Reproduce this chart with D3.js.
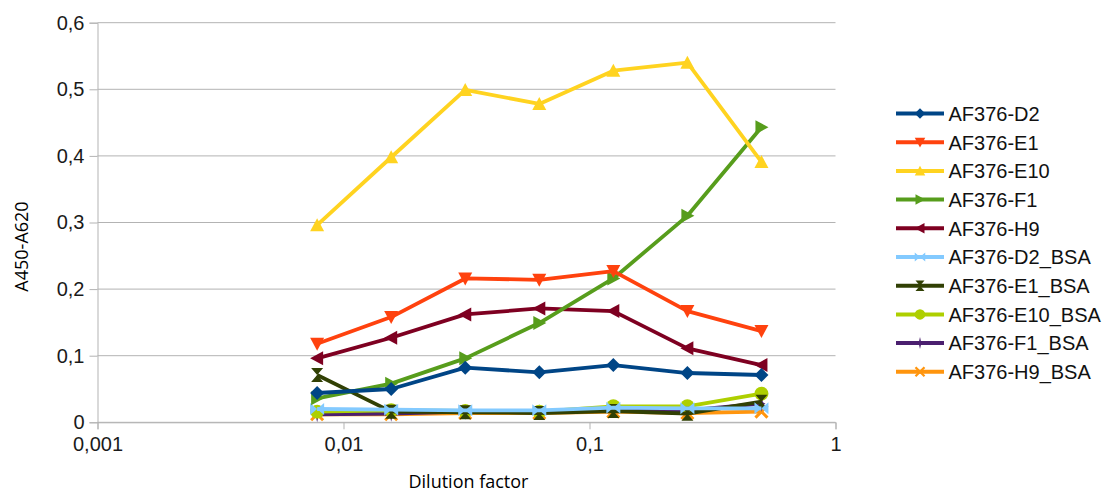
<!DOCTYPE html>
<html>
<head>
<meta charset="utf-8">
<script src="https://cdn.jsdelivr.net/npm/d3@7"></script>
<style>
  html, body { margin: 0; padding: 0; background: #fff; }
  svg { display: block; font-family: "Liberation Sans", Arial, sans-serif; }
</style>
</head>
<body>
<svg id="chart" width="1105" height="492"></svg>
<script>
// Dilution factors (1/128 ... 1/2)
const dilutions = [0.0078125, 0.015625, 0.03125, 0.0625, 0.125, 0.25, 0.5];

const seriesNames = ["AF376-D2", "AF376-E1", "AF376-E10", "AF376-F1", "AF376-H9",
  "AF376-D2_BSA", "AF376-E1_BSA", "AF376-E10_BSA", "AF376-F1_BSA", "AF376-H9_BSA"];

const valD2      = [0.044, 0.050, 0.082, 0.075, 0.086, 0.074, 0.071];
const valE1      = [0.118, 0.158, 0.216, 0.214, 0.227, 0.167, 0.137];
const valE10     = [0.296, 0.398, 0.499, 0.478, 0.528, 0.540, 0.391];
const valF1      = [0.036, 0.058, 0.096, 0.149, 0.216, 0.310, 0.443];
const valH9      = [0.096, 0.127, 0.162, 0.171, 0.167, 0.111, 0.086];
const valD2BSA   = [0.020, 0.019, 0.018, 0.018, 0.022, 0.021, 0.021];
const valE1BSA   = [0.071, 0.016, 0.015, 0.014, 0.017, 0.013, 0.031];
const valE10BSA  = [0.016, 0.018, 0.017, 0.016, 0.024, 0.024, 0.043];
const valF1BSA   = [0.012, 0.013, 0.016, 0.015, 0.019, 0.018, 0.028];
const valH9BSA   = [0.012, 0.012, 0.014, 0.014, 0.016, 0.014, 0.016];

const seriesValues = [valD2, valE1, valE10, valF1, valH9, valD2BSA, valE1BSA, valE10BSA, valF1BSA, valH9BSA];

const colors = ["#004586", "#ff420e", "#ffd320", "#579d1c", "#7e0021",
  "#83caff", "#314004", "#aecf00", "#4b1f6f", "#ff950e"];
const markerTypes = ["diamond", "down", "up", "right", "left", "bowtie", "hourglass", "circle", "star", "x"];

const yTicks = [0, 0.1, 0.2, 0.3, 0.4, 0.5, 0.6];
const xTicks = [0.001, 0.01, 0.1, 1];

const svg = d3.select("#chart");
const plotLeft = 97.5, plotRight = 835.5, plotTop = 22.7, plotBottom = 422.3;

const x = d3.scaleLog().domain([0.001, 1]).range([plotLeft, plotRight]);
const y = d3.scaleLinear().domain([0, 0.6]).range([plotBottom, plotTop]);
const fmt = d => String(d).replace(".", ",");

// horizontal gridlines
svg.append("g").selectAll("line").data(yTicks).join("line")
  .attr("x1", plotLeft).attr("x2", plotRight)
  .attr("y1", d => y(d)).attr("y2", d => y(d))
  .attr("stroke", "#b3b3b3").attr("stroke-width", 1);

// y axis
const yAxis = svg.append("g").attr("transform", `translate(${plotLeft},0)`)
  .call(d3.axisLeft(y).tickValues(yTicks).tickFormat(fmt).tickSize(8).tickPadding(5));
yAxis.select(".domain").attr("stroke", "#b3b3b3");
yAxis.selectAll(".tick line").attr("stroke", "#b3b3b3");
yAxis.selectAll("text").attr("font-size", 20).attr("fill", "#1a1a1a")
  .attr("font-family", "Liberation Sans, Arial, sans-serif");

// x axis
const xAxis = svg.append("g").attr("transform", `translate(0,${plotBottom})`)
  .call(d3.axisBottom(x).tickValues(xTicks).tickFormat(fmt).tickSize(7).tickPadding(8));
xAxis.select(".domain").attr("stroke", "#b3b3b3");
xAxis.selectAll(".tick line").attr("stroke", "#b3b3b3");
xAxis.selectAll("text").attr("font-size", 20).attr("fill", "#1a1a1a")
  .attr("font-family", "Liberation Sans, Arial, sans-serif");

// axis titles
svg.append("text").attr("x", 468.5).attr("y", 487.5).attr("text-anchor", "middle")
  .attr("font-family", "Open Sans, sans-serif")
  .attr("font-size", 18).attr("fill", "#000").text("Dilution factor");
svg.append("text").attr("transform", "translate(27.5,246.5) rotate(-90)")
  .attr("font-family", "Open Sans, sans-serif")
  .attr("text-anchor", "middle").attr("font-size", 18).attr("fill", "#000").text("A450-A620");

// marker shapes
function markerPath(type) {
  switch (type) {
    case "diamond": return "M0,-7L7,0L0,7L-7,0Z";
    case "down": return "M-7,-6L7,-6L0,7Z";
    case "up": return "M-7,6L7,6L0,-7Z";
    case "right": return "M-6,-7L7,0L-6,7Z";
    case "left": return "M6,-7L-7,0L6,7Z";
    case "bowtie": return "M-7,-6L0,0L-7,6Z M7,-6L0,0L7,6Z";
    case "hourglass": return "M-6,-7L6,-7L0,0Z M-6,7L6,7L0,0Z";
    case "circle": return "M7,0A7,7 0 1,1 -7,0A7,7 0 1,1 7,0Z";
    case "star": return "M0,-8L1.5,-1.5L4,0L1.5,1.5L0,8L-1.5,1.5L-4,0L-1.5,-1.5Z";
    case "x": return "M-6,-6L6,6M6,-6L-6,6";
  }
}
function drawMarker(g, type, color) {
  const p = g.append("path").attr("d", markerPath(type));
  if (type === "x") p.attr("fill", "none").attr("stroke", color).attr("stroke-width", 3);
  else p.attr("fill", color);
}

const line = d3.line().x(d => x(d[0])).y(d => y(d[1]));

// draw series, first series ending on top
const plot = svg.append("g");
for (let i = seriesNames.length - 1; i >= 0; i--) {
  const pts = dilutions.map((d, j) => [d, seriesValues[i][j]]);
  const g = plot.append("g");
  g.append("path").datum(pts).attr("d", line)
    .attr("fill", "none").attr("stroke", colors[i]).attr("stroke-width", 3.8)
    .attr("stroke-linejoin", "round");
  pts.forEach(p => {
    const m = g.append("g").attr("transform", `translate(${x(p[0])},${y(p[1])})`);
    drawMarker(m, markerTypes[i], colors[i]);
  });
}

// legend
const legend = svg.append("g");
seriesNames.forEach((name, i) => {
  const ly = 113.5 + i * 28.7;
  const g = legend.append("g").attr("transform", `translate(0,${ly})`);
  g.append("line").attr("x1", 896).attr("x2", 944).attr("y1", 0).attr("y2", 0)
    .attr("stroke", colors[i]).attr("stroke-width", 4);
  const m = g.append("g").attr("transform", "translate(920,0) scale(0.75)");
  drawMarker(m, markerTypes[i], colors[i]);
  g.append("text").attr("x", 948.5).attr("y", 7.3).attr("font-size", 20)
    .attr("fill", "#111").text(name);
});
</script>
</body>
</html>
